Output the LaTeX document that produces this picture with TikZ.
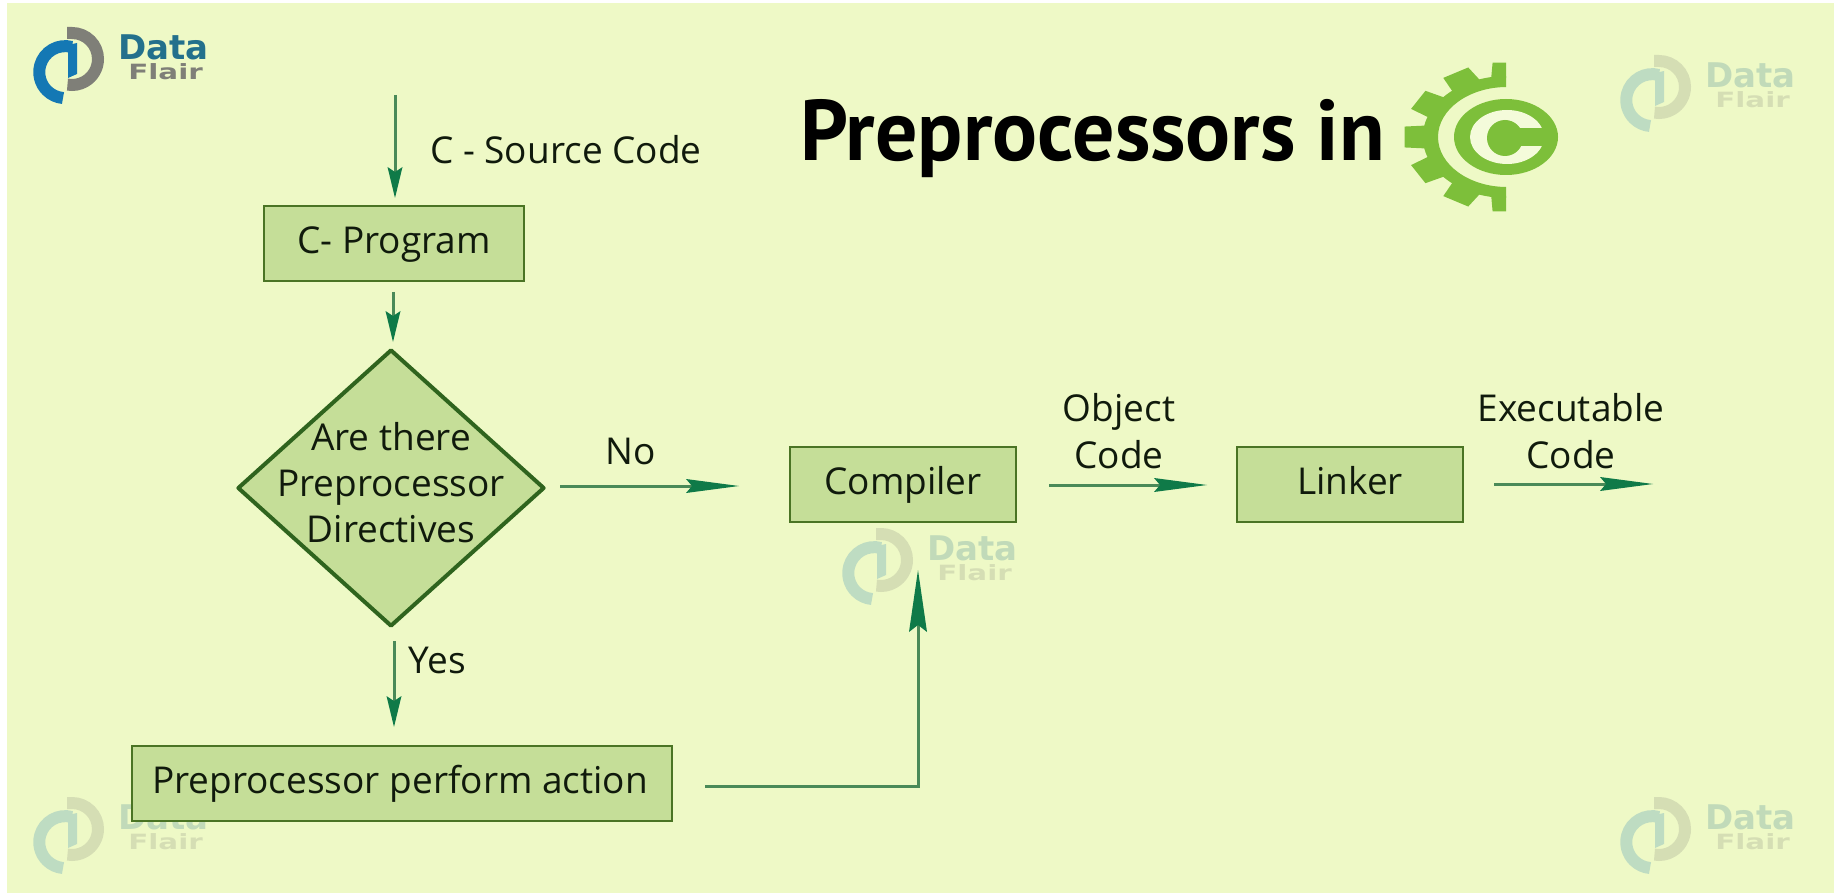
\documentclass[tikz,border=0pt]{standalone}
\usepackage{fontspec}
\setmainfont{Open Sans}
\newfontfamily\titlefont{PT Sans}
\newfontfamily\logofont{DejaVu Sans}
\usetikzlibrary{arrows.meta,shapes.geometric}
\definecolor{bgc}{HTML}{EEF9C6}
\definecolor{boxfill}{HTML}{C5DE98}
\definecolor{boxline}{HTML}{4A7424}
\definecolor{dialine}{HTML}{2F641E}
\definecolor{arrowc}{HTML}{0F7A48}
\definecolor{stemc}{HTML}{4A8A58}
\definecolor{gearc}{HTML}{7DBF3A}
\definecolor{logoblue}{HTML}{1478B4}
\definecolor{logogray}{HTML}{7F7F78}
\definecolor{logoteal}{HTML}{23708C}
\definecolor{ctext}{HTML}{101A0C}
\tikzset{
  x=1pt,y=-1pt,
  flowbox/.style={draw=boxline,line width=2pt,fill=boxfill,rectangle,inner sep=0pt,text=ctext,text height=26pt,text depth=6pt,font=\fontsize{37}{37}\selectfont},
  decide/.style={draw=dialine,line width=4pt,fill=boxfill,diamond,aspect=1.1,inner sep=0pt,line join=round},
  lab/.style={text=ctext,inner sep=0pt,align=center,font=\fontsize{37}{47}\selectfont},
  flow/.style={draw=stemc,line width=3pt,-{Stealth[length=53pt,width=14pt,inset=6pt,color=arrowc,fill=arrowc,line width=0pt]}},
  flowv/.style={draw=stemc,line width=3pt,-{Stealth[length=31pt,width=15pt,inset=5pt,color=arrowc,fill=arrowc,line width=0pt]}},
  flowu/.style={draw=stemc,line width=3pt,-{Stealth[length=62pt,width=18pt,inset=7pt,color=arrowc,fill=arrowc,line width=0pt]}},
  dfdata/.style={inner sep=0pt,anchor=west,text=logoteal,font=\logofont\bfseries\fontsize{34}{34}\selectfont},
  dfflair/.style={inner sep=0pt,anchor=west,xscale=1.4,text=logogray,font=\logofont\bfseries\fontsize{21}{21}\selectfont},
}
\newcommand{\dflogo}[3]{%
\begin{scope}[shift={(#1,#2)},opacity=#3,transparency group]
  \draw[logogray,line width=12pt] (67,33) -- (72,33) arc[start angle=-90,end angle=100,radius=26];
  \draw[logoblue,line width=12pt] (72,47) arc[start angle=-75,end angle=-265,radius=26];
  \fill[logoblue] (68,45) -- (77,43) -- (77,74) -- (68,78) -- cycle;
  \node[dfdata] at (118,47) {Data};
  \node[dfflair] at (128,72) {Flair};
\end{scope}}
\begin{document}
\begin{tikzpicture}
\useasboundingbox (0,0) rectangle (1834,893);
\fill[white] (0,0) rectangle (1834,893);
\fill[bgc] (7,3) rectangle (1834,893);
% watermarks
\dflogo{0}{0}{1}
\dflogo{1587}{28}{.22}
\dflogo{809}{501}{.22}
\dflogo{0}{770}{.22}
\dflogo{1587}{770}{.22}
% gear
\begin{scope}
  \clip (1380,40) rectangle (1506,230);
  \begin{scope}[shift={(1507,137)},xscale=1.38]
    \fill[gearc,even odd rule] (0,0) circle[radius=61] (0,0) circle[radius=50];
    \foreach \a in {90,120,150,180,210,240,270}
      \fill[gearc] (\a-11:60) -- (\a-8:75) -- (\a+8:75) -- (\a+11:60) -- cycle;
  \end{scope}
\end{scope}
\fill[gearc] (1506,137) ellipse[x radius=52,y radius=38];
\fill[bgc!65!white] (1507,137) ellipse[x radius=37,y radius=27];
\fill[gearc] (1505,138) circle[radius=18];
\fill[gearc] (1505,128) rectangle (1548,146);
% title
\node[inner sep=0pt,anchor=base west,xscale=.975,font=\titlefont\bfseries\fontsize{86}{86}\selectfont] (title) at (800,161) {Preprocessors in};
% nodes
\node[flowbox,minimum width=260pt,minimum height=75pt] (prog) at (394,243.5) {C- Program};
\node[decide,minimum width=307pt,minimum height=277pt] (dec) at (391,488) {};
\node[lab,font=\fontsize{37}{46}\selectfont] (dectext) at (391,483) {Are there\\Preprocessor\\Directives};
\node[flowbox,minimum width=226pt,minimum height=75pt] (comp) at (903,484.5) {Compiler};
\node[flowbox,minimum width=226pt,minimum height=75pt] (link) at (1350,484) {Linker};
\node[flowbox,minimum width=540pt,minimum height=75pt] (act) at (402,783.5) {\kern-4pt Preprocessor perform action};
% labels
\node[lab,anchor=base west] (lsrc) at (430,164) {C - Source Code};
\node[lab] (lno) at (631,451) {No};
\node[lab] (lyes) at (437,660) {Yes};
\node[lab] (lobj) at (1119,431) {Object\\Code};
\node[lab] (lexe) at (1571,431) {Executable\\Code};
% free ends
\coordinate (a0) at (395,95);
\coordinate (a1) at (395,198);
\coordinate (b0) at (393,292);
\coordinate (b1) at (393,342);
\coordinate (c0) at (560,486);
\coordinate (c1) at (739,486);
\coordinate (d0) at (394,641);
\coordinate (d1) at (394,727);
\coordinate (e0) at (705,786);
\coordinate (e1) at (918,786);
\coordinate (e2) at (918,570);
\coordinate (f0) at (1049,485);
\coordinate (f1) at (1207,485);
\coordinate (g0) at (1494,484);
\coordinate (g1) at (1653,484);
\draw[flowv] (a0) -- (a1);
\draw[flowv] (b0) -- (b1);
\draw[flow] (c0) -- (c1);
\draw[flowv] (d0) -- (d1);
\draw[flowu] (e0) -- (e1) -- (e2);
\draw[flow] (f0) -- (f1);
\draw[flow] (g0) -- (g1);
\end{tikzpicture}
\end{document}
